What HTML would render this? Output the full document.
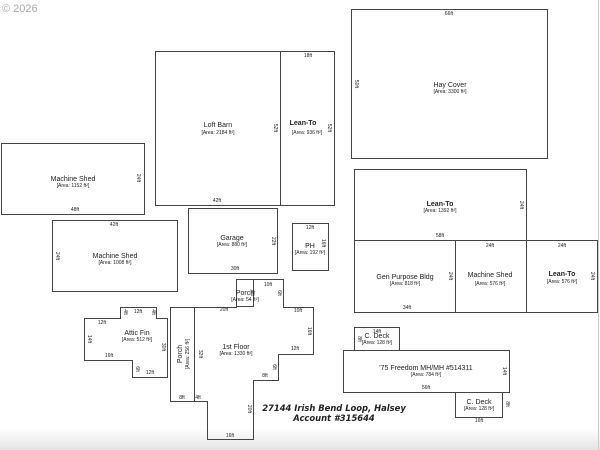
<!DOCTYPE html>
<html><head><meta charset="utf-8"><style>
html,body{margin:0;padding:0;background:#fff;width:600px;height:450px;overflow:hidden}
svg{display:block}
text{font-family:"Liberation Sans",sans-serif;fill:#222}
.n{font-size:7px}
.a{font-size:5px}
.d{font-size:5px}
.b{font-weight:bold}
</style></head><body>
<svg width="600" height="450" viewBox="0 0 600 450" xmlns="http://www.w3.org/2000/svg">
<defs><linearGradient id="g" x1="0" y1="0" x2="0" y2="1"><stop offset="0" stop-color="#fff"/><stop offset="1" stop-color="#e4e4e4"/></linearGradient></defs>
<rect x="0" y="428" width="600" height="22" fill="url(#g)"/>
<line x1="598.5" y1="0" x2="598.5" y2="450" stroke="#ccc" stroke-width="1"/>
<text x="2" y="12" style="font-size:11px;fill:#aaa">© 2026</text>
<g fill="none" stroke="#444" stroke-width="1">
<rect x="1.5" y="143.5" width="143" height="71"/>
<rect x="155.5" y="51.5" width="125" height="154"/>
<rect x="280.5" y="51.5" width="54" height="154"/>
<rect x="351.5" y="9.5" width="196" height="149"/>
<rect x="354.5" y="169.5" width="172" height="71"/>
<rect x="354.5" y="240.5" width="101" height="72"/>
<rect x="455.5" y="240.5" width="71" height="72"/>
<rect x="526.5" y="240.5" width="71" height="72"/>
<rect x="52.5" y="220.5" width="125" height="71"/>
<rect x="188.5" y="208.5" width="89" height="65"/>
<rect x="292.5" y="223.5" width="36" height="47"/>
<rect x="236.5" y="279.5" width="17" height="27"/>
<rect x="170.5" y="307.5" width="24" height="94"/>
<polygon points="194.5,307.5 236.5,307.5 236.5,279.5 283.5,279.5 283.5,307.5 313.5,307.5 313.5,354.5 278.5,354.5 278.5,380.5 253.5,380.5 253.5,439.5 207.5,439.5 207.5,401.5 194.5,401.5"/>
<polygon points="84.5,318.5 120.5,318.5 120.5,307.5 156.5,307.5 156.5,318.5 167.5,318.5 167.5,377.5 132.5,377.5 132.5,360.5 84.5,360.5"/>
<rect x="354.5" y="327.5" width="45" height="23"/>
<rect x="343.5" y="350.5" width="166" height="42"/>
<rect x="455.5" y="392.5" width="47" height="25"/>
</g>
<g text-anchor="middle">
<text class="n" x="73" y="181">Machine Shed</text><text class="a" x="73" y="187">[Area: 1152 ft²]</text>
<text class="n" x="218" y="127">Loft Barn</text><text class="a" x="218" y="134">[Area: 2184 ft²]</text>
<text class="n b" x="303" y="125">Lean-To</text><text class="a" x="307" y="134">[Area: 936 ft²]</text>
<text class="n" x="450" y="87">Hay Cover</text><text class="a" x="450" y="93">[Area: 3300 ft²]</text>
<text class="n b" x="440" y="206">Lean-To</text><text class="a" x="440" y="212">[Area: 1392 ft²]</text>
<text class="n" x="405" y="279">Gen Purpose Bldg</text><text class="a" x="405" y="285">[Area: 818 ft²]</text>
<text class="n" x="490" y="277">Machine Shed</text><text class="a" x="490" y="285">[Area: 576 ft²]</text>
<text class="n b" x="562" y="276">Lean-To</text><text class="a" x="562" y="283">[Area: 576 ft²]</text>
<text class="n" x="115" y="258">Machine Shed</text><text class="a" x="115" y="264">[Area: 1008 ft²]</text>
<text class="n" x="232" y="240">Garage</text><text class="a" x="232" y="246">[Area: 880 ft²]</text>
<text class="n" x="310" y="248">PH</text><text class="a" x="310" y="254">[Area: 192 ft²]</text>
<text class="n" x="245" y="295">Porch</text><text class="a" x="245" y="301">[Area: 54 ft²]</text>
<text class="n" x="236" y="349">1st Floor</text><text class="a" x="236" y="355">[Area: 1330 ft²]</text>
<text class="n" x="137" y="335">Attic Fin</text><text class="a" x="137" y="341">[Area: 512 ft²]</text>
<text class="n" x="377" y="338">C. Deck</text><text class="a" x="377" y="344">[Area: 128 ft²]</text>
<text class="n" x="426" y="370">'75 Freedom MH/MH #514311</text><text class="a" x="426" y="376">[Area: 784 ft²]</text>
<text class="n" x="479" y="404">C. Deck</text><text class="a" x="479" y="410">[Area: 128 ft²]</text>
<text class="n" transform="translate(182,354) rotate(-90)">Porch</text>
<text class="a" transform="translate(189,354) rotate(-90)">[Area: 256 ft²]</text>
<text class="d" x="75" y="211">48ft</text><text class="d" x="217" y="202">42ft</text><text class="d" x="308" y="57">18ft</text>
<text class="d" x="449" y="15">66ft</text><text class="d" x="440" y="237">58ft</text><text class="d" x="407" y="309">34ft</text>
<text class="d" x="490" y="247">24ft</text><text class="d" x="562" y="247">24ft</text><text class="d" x="114" y="226">42ft</text>
<text class="d" x="235" y="270">30ft</text><text class="d" x="310" y="229">12ft</text><text class="d" x="268" y="286">10ft</text>
<text class="d" x="224" y="311">20ft</text><text class="d" x="298" y="312">10ft</text><text class="d" x="295" y="350">12ft</text>
<text class="d" x="265" y="377">8ft</text><text class="d" x="182" y="399">8ft</text><text class="d" x="198" y="399">4ft</text>
<text class="d" x="230" y="437">16ft</text><text class="d" x="102" y="324">12ft</text><text class="d" x="138" y="313">12ft</text>
<text class="d" x="109" y="357">16ft</text><text class="d" x="150" y="374">12ft</text><text class="d" x="377" y="333">14ft</text>
<text class="d" x="426" y="389">56ft</text><text class="d" x="479" y="422">16ft</text>
</g>
<g class="d" text-anchor="middle">
<text class="d" transform="translate(137,178) rotate(90)">24ft</text>
<text class="d" transform="translate(274,128) rotate(90)">52ft</text>
<text class="d" transform="translate(328,128) rotate(90)">52ft</text>
<text class="d" transform="translate(355,84) rotate(90)">50ft</text>
<text class="d" transform="translate(520,205) rotate(90)">24ft</text>
<text class="d" transform="translate(449,276) rotate(90)">24ft</text>
<text class="d" transform="translate(591,276) rotate(90)">24ft</text>
<text class="d" transform="translate(56,256) rotate(90)">24ft</text>
<text class="d" transform="translate(272,241) rotate(90)">22ft</text>
<text class="d" transform="translate(322,243) rotate(90)">16ft</text>
<text class="d" transform="translate(251,293) rotate(90)">6ft</text>
<text class="d" transform="translate(278,293) rotate(90)">6ft</text>
<text class="d" transform="translate(308,331) rotate(90)">16ft</text>
<text class="d" transform="translate(273,367) rotate(90)">6ft</text>
<text class="d" transform="translate(248,409) rotate(90)">20ft</text>
<text class="d" transform="translate(199,354) rotate(90)">32ft</text>
<text class="d" transform="translate(88,339) rotate(90)">14ft</text>
<text class="d" transform="translate(162,347) rotate(90)">30ft</text>
<text class="d" transform="translate(124,312) rotate(90)">4ft</text>
<text class="d" transform="translate(152,312) rotate(90)">4ft</text>
<text class="d" transform="translate(136,369) rotate(90)">6ft</text>
<text class="d" transform="translate(358,339) rotate(90)">8ft</text>
<text class="d" transform="translate(503,371) rotate(90)">14ft</text>
<text class="d" transform="translate(506,404) rotate(90)">8ft</text>
</g>
<g text-anchor="middle" style="font-family:'DejaVu Sans',sans-serif;font-weight:bold;font-style:italic;font-size:8.4px">
<text x="334" y="411" style="font-family:'DejaVu Sans',sans-serif">27144 Irish Bend Loop, Halsey</text>
<text x="334" y="421" style="font-family:'DejaVu Sans',sans-serif">Account #315644</text>
</g>
</svg>
</body></html>
